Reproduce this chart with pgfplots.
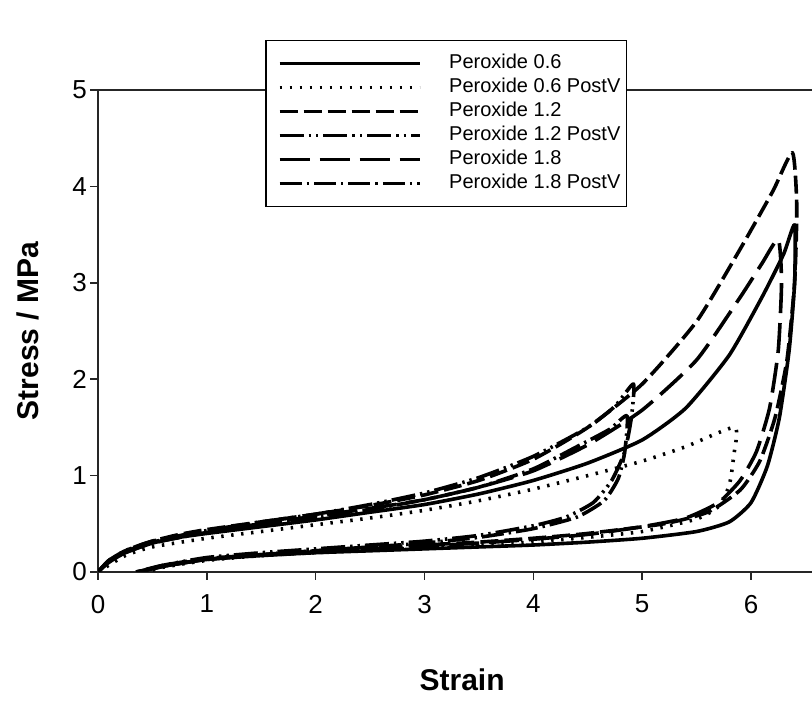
\documentclass[border=0pt]{standalone}
\usepackage{pgfplots}
\pgfplotsset{compat=1.18}
\usepackage{fontspec}
\setmainfont{Liberation Sans}
\usepackage{graphicx}

\begin{document}
\begin{tikzpicture}
\useasboundingbox (0,0) rectangle (406pt,350pt);
\begin{axis}[
  at={(49pt,64pt)}, anchor=south west,
  scale only axis, width=357pt, height=241pt,
  xmin=0, xmax=6.56, ymin=0, ymax=5,
  axis x line*=box, axis y line*=left,
  axis line style={-, line width=0.8pt, black!85},
  xtick={0,1,2,3,4,5,6}, ytick={0,1,2,3,4,5},
  xtick pos=bottom, ytick pos=left,
  tick align=outside, major tick length=4pt,
  tick style={line width=0.8pt, black!85},
  tick label style={font=\fontsize{13}{15}\selectfont},
  xticklabel style={yshift=-4pt},
  yticklabel style={xshift=2pt},
  /pgf/number format/assume math mode=true,
  xlabel={\textbf{Strain}}, ylabel={\textbf{Stress / MPa}},
  every axis x label/.style={at={(axis description cs:0.51,-0.245)}, anchor=base, font=\fontsize{15}{18}\selectfont},
  every axis y label/.style={at={(axis description cs:-0.084,0.5)}, anchor=base, rotate=90, font=\fontsize{15}{18}\selectfont},
  legend cell align=left,
  legend image code/.code={\path (0pt,0pt); \draw[#1, line width=1.5pt] (5pt,0pt) -- (75pt,0pt);},
  legend style={at={(0.234,1.104)}, anchor=north west, draw=black, line width=0.8pt, fill=white,
    font=\fontsize{10}{12}\selectfont, inner xsep=1pt, inner ysep=5.5pt,
    nodes={text height=7pt, text depth=2pt, inner ysep=1.5pt},
    /tikz/every odd column/.append style={column sep=12pt}},
  every axis plot/.append style={line width=1.8pt, black, line join=round, smooth, tension=0.35},
]
% Peroxide 0.6 (solid)
\addplot[solid] coordinates {
(0,0) (0.1,0.1) (0.25,0.2) (0.5,0.3) (0.75,0.36) (1,0.4) (1.5,0.47) (2,0.54) (2.5,0.62) (3,0.7) (3.5,0.81) (4,0.95) (4.5,1.13) (5,1.37) (5.4,1.7) (5.8,2.25) (6.1,2.85) (6.3,3.3) (6.4,3.6)
(6.4,3.0) (6.35,2.3) (6.26,1.6) (6.15,1.1) (6.0,0.72) (5.8,0.52) (5.5,0.42) (5,0.35) (4.5,0.31) (4,0.28) (3.5,0.26) (3,0.24) (2.5,0.22) (2,0.2) (1.5,0.17) (1,0.13) (0.7,0.08) (0.45,0.02) (0.4,0)
};
\addlegendentry{Peroxide 0.6}
% Peroxide 0.6 PostV (dotted)
\addplot[dash pattern=on 1.2pt off 3.8pt] coordinates {
(0,0) (0.25,0.17) (0.5,0.26) (1,0.35) (1.5,0.42) (2,0.49) (2.5,0.56) (3,0.64) (3.5,0.74) (4,0.86) (4.5,1.0) (5,1.15) (5.4,1.3) (5.85,1.5)
(5.84,1.2) (5.8,0.9) (5.7,0.68) (5.5,0.55) (5,0.42) (4.5,0.36) (4,0.31) (3.5,0.28) (3,0.25) (2.5,0.23) (2,0.2) (1.5,0.17) (1,0.12) (0.6,0.05) (0.45,0)
};
\addlegendentry{Peroxide 0.6 PostV}
% Peroxide 1.2 (dashes)
\addplot[dash pattern=on 9pt off 3pt] coordinates {
(0,0) (0.1,0.12) (0.25,0.22) (0.5,0.32) (0.75,0.39) (1,0.44) (1.5,0.52) (2,0.6) (2.5,0.69) (3,0.8) (3.5,0.95) (4,1.17) (4.5,1.5) (5,1.95) (5.5,2.6) (5.9,3.35) (6.2,3.95) (6.38,4.35)
(6.42,3.8) (6.4,3.0) (6.33,2.2) (6.22,1.6) (6.08,1.15) (5.9,0.85) (5.6,0.62) (5.2,0.5) (4.5,0.4) (4,0.35) (3.5,0.31) (3,0.28) (2.5,0.25) (2,0.22) (1.5,0.18) (1,0.14) (0.6,0.07) (0.35,0)
};
\addlegendentry{Peroxide 1.2}
% Peroxide 1.2 PostV (dash-dot-dot)
\addplot[dash pattern=on 12pt off 2.5pt on 1.2pt off 2.5pt on 1.2pt off 2.5pt] coordinates {
(0,0) (0.1,0.12) (0.25,0.22) (0.5,0.32) (1,0.43) (1.5,0.52) (2,0.6) (2.5,0.7) (3,0.82) (3.5,0.98) (4,1.2) (4.5,1.5) (4.75,1.72) (4.92,1.95)
(4.9,1.6) (4.84,1.25) (4.72,0.95) (4.55,0.72) (4.3,0.57) (4,0.48) (3.5,0.38) (3,0.32) (2.5,0.28) (2,0.24) (1.5,0.2) (1,0.15) (0.6,0.07) (0.38,0)
};
\addlegendentry{Peroxide 1.2 PostV}
% Peroxide 1.8 (long dashes)
\addplot[dash pattern=on 15pt off 5pt] coordinates {
(0,0) (0.1,0.11) (0.25,0.21) (0.5,0.31) (1,0.42) (1.5,0.5) (2,0.58) (2.5,0.66) (3,0.75) (3.5,0.88) (4,1.05) (4.5,1.32) (5,1.68) (5.5,2.2) (5.9,2.85) (6.1,3.2) (6.25,3.45)
(6.28,3.0) (6.25,2.3) (6.17,1.7) (6.05,1.25) (5.9,0.95) (5.7,0.72) (5.4,0.56) (5,0.47) (4.5,0.39) (4,0.34) (3.5,0.3) (3,0.27) (2.5,0.24) (2,0.21) (1.5,0.18) (1,0.13) (0.6,0.06) (0.35,0)
};
\addlegendentry{Peroxide 1.8}
% Peroxide 1.8 PostV (dash-dot)
\addplot[dash pattern=on 11pt off 2.5pt on 1.2pt off 2.5pt] coordinates {
(0,0) (0.1,0.11) (0.25,0.2) (0.5,0.3) (1,0.41) (1.5,0.49) (2,0.57) (2.5,0.65) (3,0.75) (3.5,0.88) (4,1.07) (4.4,1.3) (4.7,1.48) (4.86,1.62)
(4.84,1.25) (4.78,0.97) (4.65,0.74) (4.4,0.57) (4,0.45) (3.5,0.36) (3,0.3) (2.5,0.26) (2,0.22) (1.5,0.18) (1,0.13) (0.6,0.06) (0.36,0)
};
\addlegendentry{Peroxide 1.8 PostV}
\end{axis}
\end{tikzpicture}
\end{document}
